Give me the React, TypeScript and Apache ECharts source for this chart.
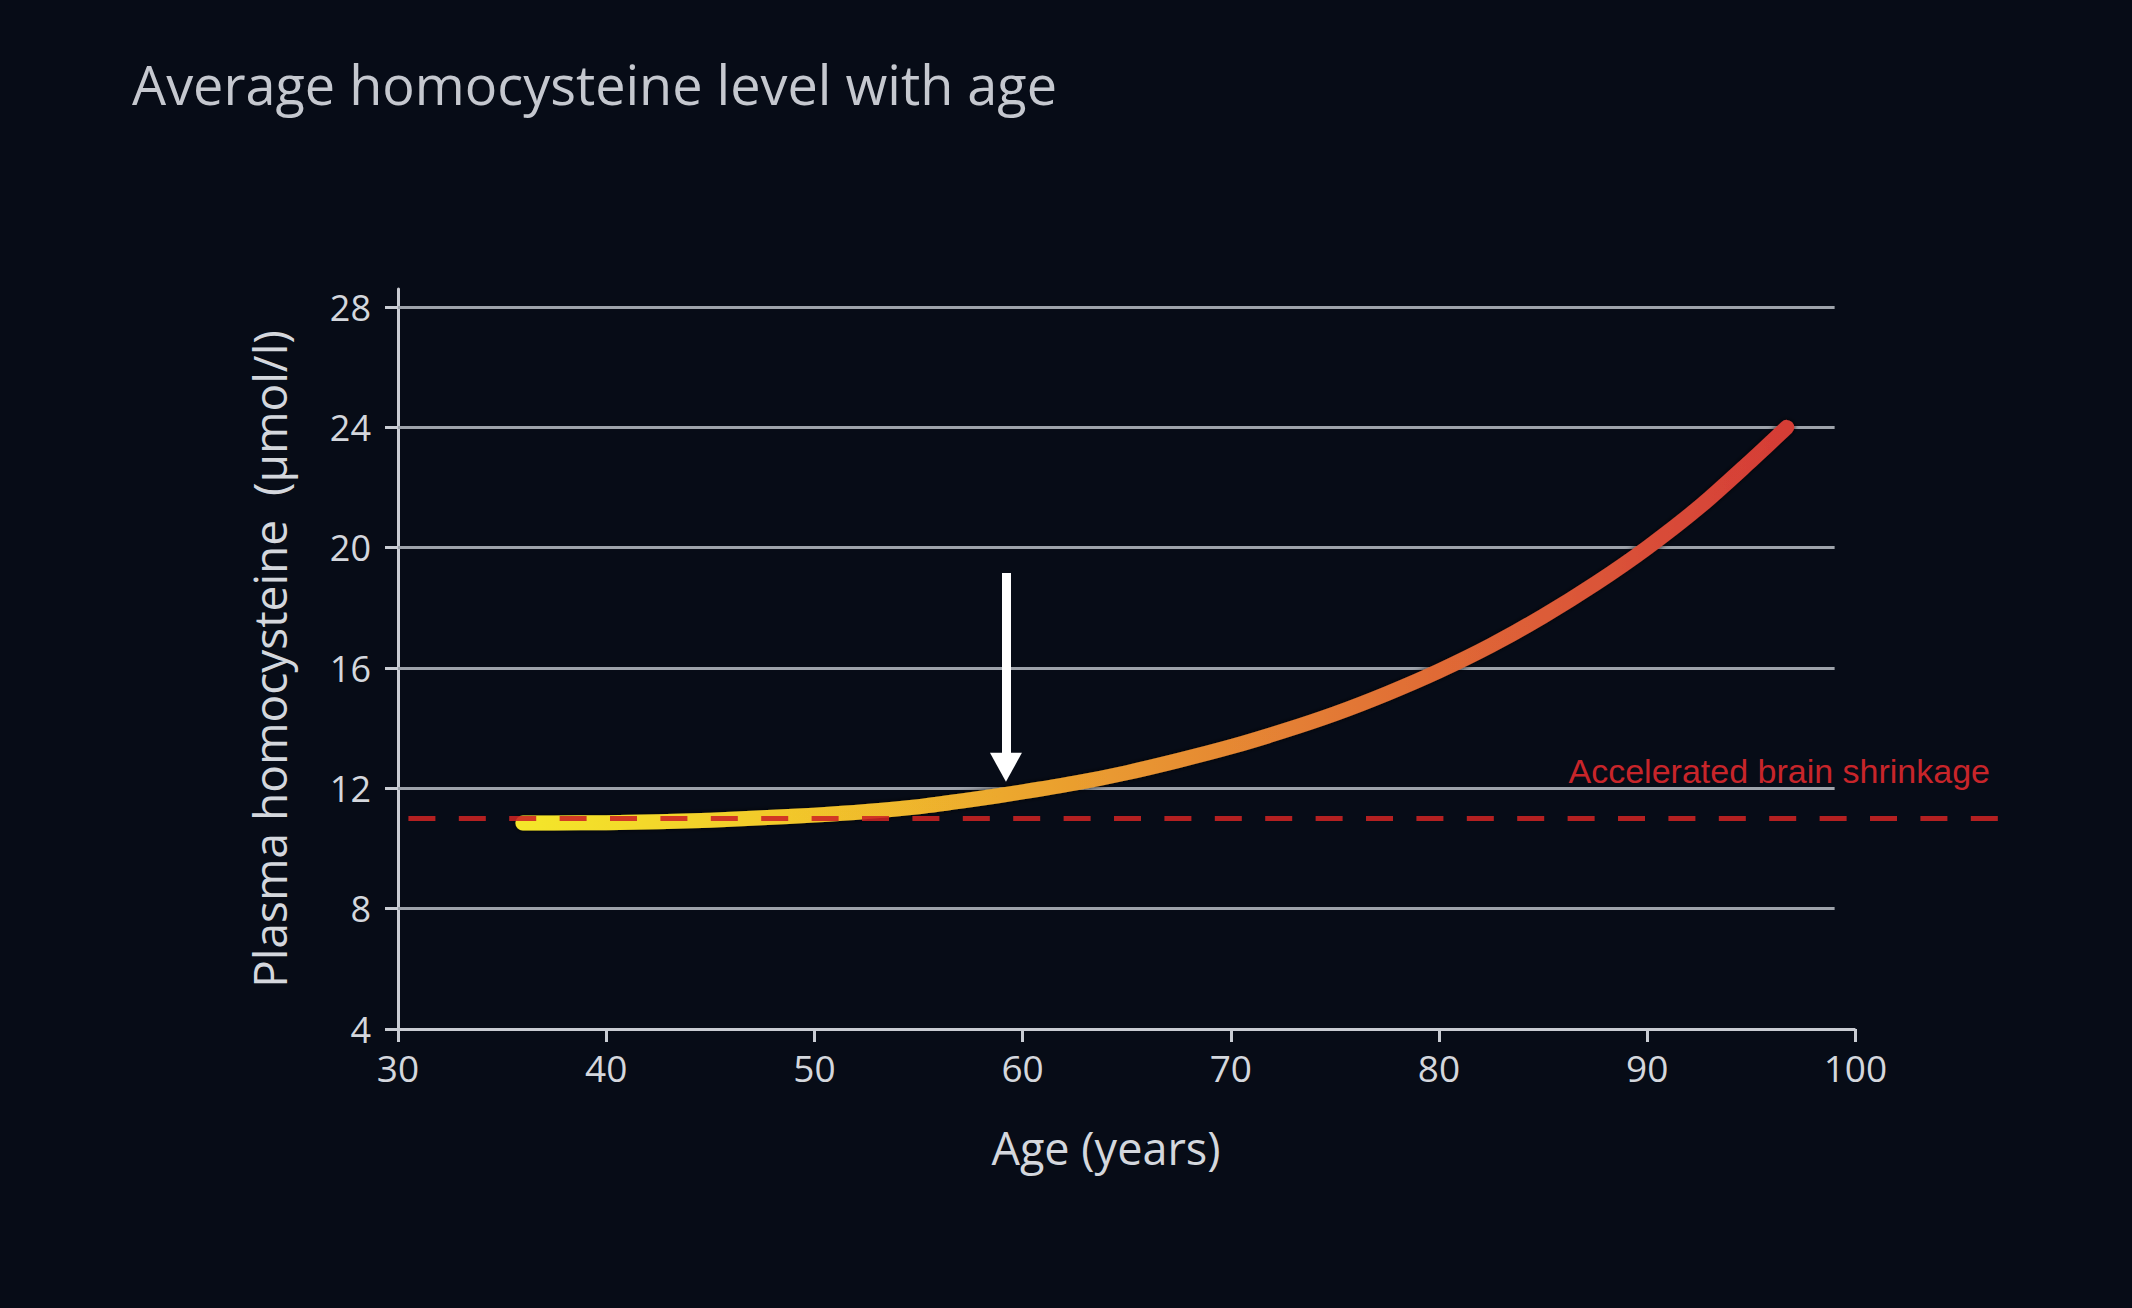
import React, { useEffect, useRef } from "react";
import * as echarts from "echarts";

// ---- data ----
const ages = [36, 37.5, 40, 42.5, 45, 47.5, 50, 52.5, 55, 57.5, 60, 62.5, 65, 67.5, 70, 72.5, 75, 77.5, 80, 82.5, 85, 87.5, 90, 92.5, 95, 96.7];
const homocysteine = [10.85, 10.85, 10.86, 10.89, 10.94, 11.02, 11.11, 11.23, 11.39, 11.62, 11.88, 12.17, 12.52, 12.93, 13.38, 13.9, 14.48, 15.15, 15.9, 16.75, 17.72, 18.8, 20.0, 21.35, 22.9, 24.0];
const xTicks = [30, 40, 50, 60, 70, 80, 90, 100];
const yTicks = [4, 8, 12, 16, 20, 24, 28];
const gridLevels = [8, 12, 16, 20, 24, 28];
const thresholdLevel = 11;
const thresholdAges = [30.5, 106.85];
const gridLineEndAge = 99;
const arrowAge = 59.2;
const arrowFromLevel = 19.16;
const arrowToLevel = 12.7;

const LABEL_COLOR = "#d4d7dd";
const AXIS_COLOR = "#c9ccd3";
const GRID_COLOR = "#9ea3ab";
const RED = "#c8252a";
const FONT = "'Open Sans', 'Noto Sans', sans-serif";

export default function App() {
  const ref = useRef<HTMLDivElement>(null);
  useEffect(() => {
    const chart = echarts.init(ref.current!, null, { renderer: "svg" });
    const curveGradient = new echarts.graphic.LinearGradient(0, 0, 1, 0, [
      { offset: 0, color: "#f4e62c" },
      { offset: 0.2, color: "#f2c92c" },
      { offset: 0.38, color: "#eca82d" },
      { offset: 0.55, color: "#e68a33" },
      { offset: 0.72, color: "#e06b36" },
      { offset: 0.88, color: "#d94f38" },
      { offset: 1, color: "#d53c36" },
    ]);
    chart.setOption({
      animation: false,
      backgroundColor: "#070c17",
      title: {
        text: "Average homocysteine level with age",
        left: 127,
        top: 52,
        textStyle: { color: "#c5c8cf", fontSize: 54, fontFamily: FONT, fontWeight: "normal" },
      },
      grid: { left: 398, right: 110, top: 289, bottom: 279 },
      xAxis: {
        type: "value",
        min: 30,
        max: 108,
        axisLine: { show: false },
        axisTick: { show: true, length: 13, customValues: xTicks, lineStyle: { color: AXIS_COLOR, width: 3 } },
        axisLabel: { customValues: xTicks, color: LABEL_COLOR, fontSize: 37, fontFamily: FONT, margin: 20 },
        splitLine: { show: false },
      },
      yAxis: {
        type: "value",
        min: 4,
        max: 28.6,
        name: "Plasma homocysteine  (µmol/l)",
        nameLocation: "middle",
        nameGap: 106,
        nameTextStyle: { color: LABEL_COLOR, fontSize: 46, fontFamily: FONT },
        axisLine: { show: true, lineStyle: { color: AXIS_COLOR, width: 3 } },
        axisTick: { show: true, length: 13, customValues: yTicks, lineStyle: { color: AXIS_COLOR, width: 3 } },
        axisLabel: { customValues: yTicks, color: LABEL_COLOR, fontSize: 36, fontFamily: FONT, margin: 27 },
        splitLine: { show: false },
      },
      graphic: [
        {
          type: "text",
          x: 1106,
          y: 1147,
          style: {
            text: "Age (years)",
            fill: LABEL_COLOR,
            fontSize: 45,
            fontFamily: FONT,
            align: "center",
            verticalAlign: "middle",
          },
        },
        {
          type: "text",
          x: 1990,
          y: 771,
          z: 20,
          style: {
            text: "Accelerated brain shrinkage",
            fill: RED,
            fontSize: 34,
            fontFamily: "'Liberation Sans', Arial, sans-serif",
            align: "right",
            verticalAlign: "middle",
          },
        },
      ],
      series: [
        {
          name: "gridlines",
          type: "line",
          data: [],
          z: 1,
          markLine: {
            silent: true,
            z: 1,
            symbol: ["none", "none"],
            label: { show: false },
            lineStyle: { color: GRID_COLOR, width: 3, type: "solid" },
            data: gridLevels.map((v) => [{ coord: [30, v] }, { coord: [gridLineEndAge, v] }]),
          },
        },
        {
          name: "x axis line",
          type: "line",
          data: [],
          z: 2,
          markLine: {
            silent: true,
            z: 2,
            symbol: ["none", "none"],
            label: { show: false },
            lineStyle: { color: AXIS_COLOR, width: 3, type: "solid" },
            data: [[{ coord: [xTicks[0], yTicks[0]] }, { coord: [xTicks[xTicks.length - 1], yTicks[0]] }]],
          },
        },
        {
          name: "Homocysteine",
          type: "line",
          smooth: 0.3,
          showSymbol: false,
          z: 3,
          data: ages.map((a, i) => [a, homocysteine[i]]),
          lineStyle: {
            width: 15,
            color: curveGradient,
            cap: "round",
            join: "round",
            shadowColor: "rgba(0,0,0,0.85)",
            shadowBlur: 5,
          },
        },
        {
          name: "Threshold",
          type: "line",
          showSymbol: false,
          z: 4,
          data: thresholdAges.map((a) => [a, thresholdLevel]),
          lineStyle: { color: "rgba(205,35,35,0.88)", width: 5, type: [27, 23.4] },
        },
        {
          name: "arrow",
          type: "line",
          data: [],
          z: 10,
          markLine: {
            silent: true,
            z: 10,
            symbol: ["none", "triangle"],
            symbolSize: [32, 29],
            label: { show: false },
            lineStyle: { color: "#ffffff", width: 9, type: "solid" },
            data: [[{ coord: [arrowAge, arrowFromLevel] }, { coord: [arrowAge, arrowToLevel] }]],
          },
        },
      ],
    });
    return () => chart.dispose();
  }, []);
  return <div ref={ref} style={{ position: "absolute", left: 0, top: 0, width: 2132, height: 1308 }} />;
}
